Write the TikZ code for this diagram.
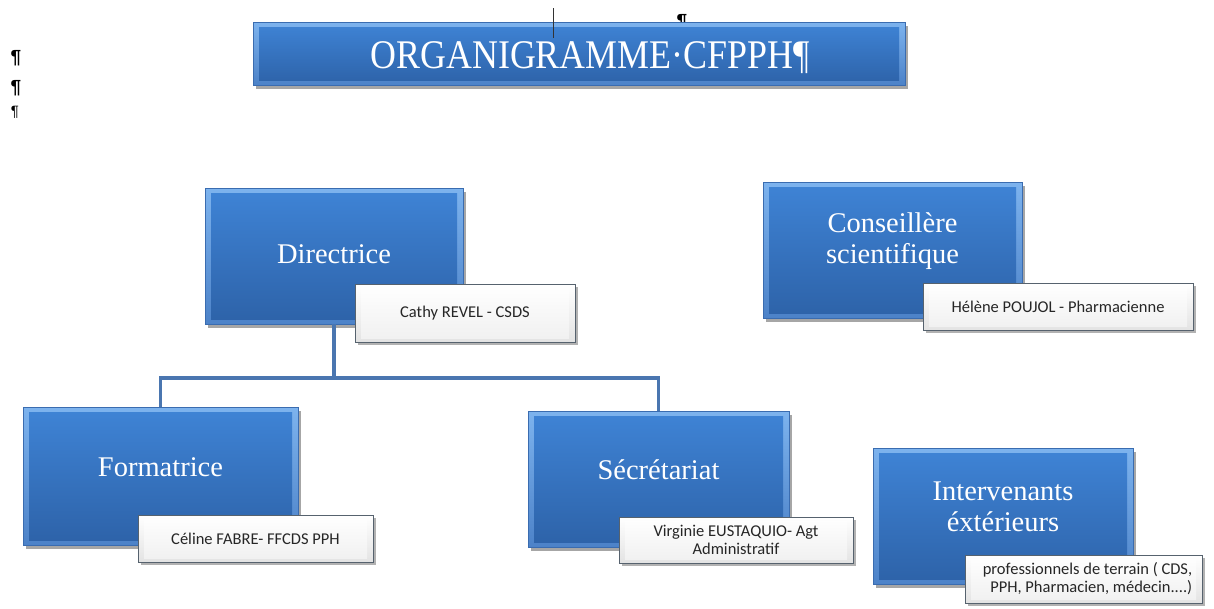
\documentclass[tikz,border=0pt]{standalone}
\usepackage{fontspec}
\setmainfont{Liberation Serif}
\newfontfamily\calib{Carlito}
\newfontfamily\marksfont{Liberation Sans}
\usetikzlibrary{shadows}
\definecolor{btop}{HTML}{3F84D6}
\definecolor{bbot}{HTML}{2D62A8}
\definecolor{bedgetop}{HTML}{7DB3EE}
\definecolor{bedgebot}{HTML}{4C82C8}
\definecolor{bline}{HTML}{3A6CB0}
\definecolor{gline}{HTML}{56626E}
\definecolor{conncol}{HTML}{4A76B0}
\tikzset{
  bluebox/.style={rectangle, inner sep=0pt, draw=bline, line width=0.6pt,
    top color=bedgetop, bottom color=bedgebot,
    path picture={\shade[top color=btop,bottom color=bbot]
      ([shift={(6pt,-5pt)}]path picture bounding box.north west) rectangle
      ([shift={(-6pt,5pt)}]path picture bounding box.south east);},
    drop shadow={shadow xshift=3pt,shadow yshift=-4pt,opacity=0.35,fill=black}},
  bluetext/.style={text=white,font=\fontsize{28.5}{31}\selectfont,align=center},
  graybox/.style={rectangle, inner sep=0pt, draw=gline, line width=1pt,
    top color=white, bottom color=black!11,
    path picture={\shade[top color=white,bottom color=black!6]
      ([shift={(6pt,-4pt)}]path picture bounding box.north west) rectangle
      ([shift={(-6pt,4pt)}]path picture bounding box.south east);},
    drop shadow={shadow xshift=3pt,shadow yshift=-3pt,opacity=0.3,fill=black}},
  graytext/.style={text=black!85,font=\calib\fontsize{16.5}{18}\selectfont,align=center},
  conn/.style={draw=conncol,line width=3.2pt},
  pilcrow/.style={font=\marksfont\bfseries\fontsize{19}{19}\selectfont,text=black,inner sep=0pt}
}
\begin{document}
\begin{tikzpicture}[x=1pt,y=-1pt]
\useasboundingbox (0,0) rectangle (1214,608);
% formatting marks
\node[pilcrow] (p1) at (16,58) {¶};
\node[pilcrow] (p2) at (16,88) {¶};
\node[pilcrow,font=\marksfont\fontsize{15}{15}\selectfont] (p3) at (15,112) {¶};
\node[pilcrow] (p4) at (682,22) {¶};
% title
\node[bluebox,minimum width=652pt,minimum height=63pt,
  label={[text=white,font=\fontsize{37}{40}\selectfont,xshift=11pt,yshift=-4pt]center:\scalebox{0.97}[1.1]{ORGANIGRAMME·CFPPH¶}}] (title) at (579,53.5) {};
\coordinate (curtop) at (553,8);
\coordinate (curbot) at (553,38);
\draw[black!80,line width=0.8pt] (curtop) -- (curbot);
% connectors
\coordinate (bus) at (334,378);
\node[bluebox,minimum width=258pt,minimum height=136pt,
  label={[bluetext,yshift=2pt]center:Directrice}] (dir) at (334,256) {};
\node[bluebox,minimum width=275pt,minimum height=138pt,
  label={[bluetext,yshift=9pt]center:Formatrice}] (form) at (160.5,476) {};
\node[bluebox,minimum width=261pt,minimum height=136pt,
  label={[bluetext,yshift=9pt]center:Sécrétariat}] (sec) at (658.5,479) {};
\draw[conn] (dir.south) -- (bus) -| (form.north);
\draw[conn] (bus) -| (sec.north);
\node[bluebox,minimum width=259pt,minimum height=136pt,
  label={[bluetext,yshift=9pt]center:{Conseillère\\scientifique}}] (cons) at (892.5,250) {};
\node[bluebox,minimum width=260pt,minimum height=136pt,
  label={[bluetext,yshift=9pt]center:{Intervenants\\éxtérieurs}}] (inter) at (1003,516) {};
% name boxes
\node[graybox,minimum width=220pt,minimum height=58pt,
  label={[graytext]center:Cathy REVEL - CSDS}] (cathy) at (465,313) {};
\node[graybox,minimum width=270pt,minimum height=47pt,
  label={[graytext]center:Hélène POUJOL - Pharmacienne}] (helene) at (1058,306.5) {};
\node[graybox,minimum width=235pt,minimum height=47pt,
  label={[graytext]center:Céline FABRE- FFCDS PPH}] (celine) at (255.5,538.5) {};
\node[graybox,minimum width=234pt,minimum height=46pt,
  label={[graytext]center:{Virginie EUSTAQUIO- Agt\\Administratif}}] (virg) at (736,540) {};
\node[graybox,minimum width=237pt,minimum height=48pt,
  label={[graytext,align=right,xshift=4pt]center:{professionnels de terrain ( CDS,\\PPH, Pharmacien, médecin....)}}] (pro) at (1083.5,579) {};
\end{tikzpicture}
\end{document}
